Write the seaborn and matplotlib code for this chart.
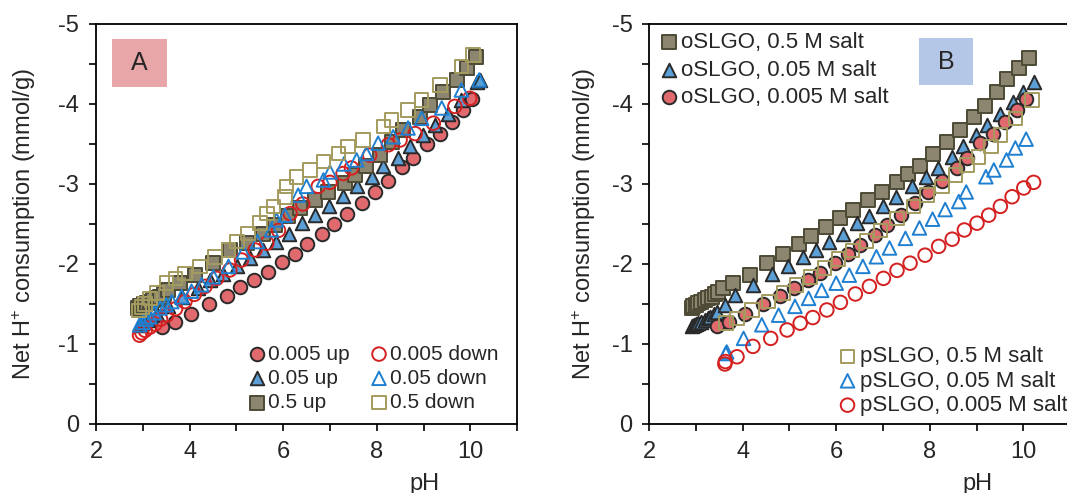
import matplotlib
matplotlib.use("Agg")
import matplotlib.pyplot as plt
import seaborn as sns
from matplotlib.patches import Rectangle
from matplotlib.ticker import MultipleLocator

# ---- panel A: up / down titrations of oSLGO at three salt levels ----
a_up_005_ph = [3.42, 3.69, 4.02, 4.41, 4.79, 5.08, 5.38, 5.67, 5.97, 6.25, 6.50, 6.84,
               7.09, 7.37, 7.68, 7.96, 8.25, 8.55, 8.77, 9.07, 9.35, 9.61, 9.85, 10.03]
a_up_005 = [-1.21, -1.27, -1.375, -1.50, -1.60, -1.71, -1.80, -1.90, -2.02, -2.125, -2.25, -2.37,
            -2.50, -2.62, -2.76, -2.90, -3.04, -3.21, -3.33, -3.50, -3.63, -3.78, -3.92, -4.06]

a_up_05_ph = [2.93, 2.98, 3.02, 3.08, 3.15, 3.30, 3.54, 3.83, 4.19, 4.44, 4.72, 5.01, 5.29, 5.57,
              5.85, 6.12, 6.40, 6.69, 6.97, 7.27, 7.57, 7.89, 8.14, 8.45, 8.71, 8.98, 9.24,
              9.53, 9.81, 10.15, 10.2]
a_up_05 = [-1.24, -1.26, -1.28, -1.30, -1.33, -1.38, -1.47, -1.59, -1.70, -1.80, -1.88, -1.97, -2.07,
           -2.175, -2.27, -2.38, -2.51, -2.61, -2.72, -2.85, -2.97, -3.09, -3.22, -3.33, -3.475,
           -3.61, -3.74, -3.88, -4.05, -4.28, -4.30]

a_up_5_ph = [2.90, 2.94, 2.98, 3.03, 3.08, 3.15, 3.22, 3.30, 3.37, 3.45, 3.54, 3.79, 4.12, 4.51,
             4.86, 5.22, 5.57, 5.82, 6.10, 6.36, 6.68, 6.96, 7.32, 7.53, 7.78, 8.07, 8.32, 8.57,
             8.92, 9.14, 9.42, 9.71, 9.92, 10.12]
a_up_5 = [-1.45, -1.47, -1.48, -1.50, -1.51, -1.53, -1.55, -1.57, -1.59, -1.63, -1.675, -1.76,
          -1.86, -2.01, -2.175, -2.26, -2.38, -2.49, -2.60, -2.70, -2.80, -2.90, -3.01, -3.11,
          -3.22, -3.36, -3.52, -3.675, -3.84, -3.99, -4.15, -4.30, -4.45, -4.59]

a_dn_005_ph = [2.93, 2.98, 3.05, 3.15, 3.26, 3.38, 3.51, 3.70, 3.90, 4.10, 4.33, 4.58, 4.86, 5.11,
               5.40, 5.65, 5.90, 6.15, 6.42, 6.75, 7.00, 7.28, 7.46, 7.85, 8.25, 8.50, 8.82,
               9.21, 9.67, 9.99]
a_dn_005 = [-1.11, -1.14, -1.17, -1.21, -1.25, -1.31, -1.36, -1.44, -1.53, -1.62, -1.72, -1.82,
            -1.925, -2.05, -2.175, -2.26, -2.42, -2.63, -2.75, -2.97, -3.02, -3.13, -3.20, -3.36,
            -3.49, -3.55, -3.63, -3.76, -3.97, -4.07]

a_dn_05_ph = [2.93, 3.00, 3.07, 3.15, 3.25, 3.37, 3.50, 3.62, 3.83, 4.04, 4.26, 4.51, 4.83, 5.15,
              5.45, 5.75, 5.86, 6.04, 6.32, 6.50, 6.86, 7.00, 7.30, 7.57, 7.78, 8.03, 8.35, 8.67,
              8.96, 9.39, 9.81, 10.19]
a_dn_05 = [-1.24, -1.27, -1.31, -1.34, -1.39, -1.45, -1.49, -1.53, -1.59, -1.66, -1.74, -1.84,
           -1.97, -2.15, -2.28, -2.425, -2.55, -2.61, -2.86, -2.97, -3.05, -3.15, -3.25, -3.30,
           -3.38, -3.51, -3.59, -3.70, -3.82, -3.95, -4.175, -4.30]

a_dn_5_ph = [2.92, 2.98, 3.05, 3.15, 3.30, 3.51, 3.70, 3.90, 4.22, 4.54, 4.83, 5.01, 5.25, 5.50,
             5.65, 5.79, 6.04, 6.07, 6.29, 6.57, 6.86, 7.18, 7.39, 7.71, 8.14, 8.32, 8.67, 8.96,
             9.35, 9.81, 10.06]
a_dn_5 = [-1.42, -1.46, -1.50, -1.57, -1.64, -1.76, -1.82, -1.88, -1.97, -2.09, -2.175, -2.28,
          -2.38, -2.51, -2.63, -2.72, -2.84, -2.97, -3.09, -3.175, -3.28, -3.38, -3.47, -3.55,
          -3.72, -3.80, -3.925, -4.05, -4.24, -4.47, -4.61]

# ---- panel B: oSLGO vs pSLGO ----
b_o5_ph = [2.91, 2.95, 3.00, 3.05, 3.12, 3.20, 3.27, 3.34, 3.41, 3.48, 3.59, 3.80, 4.15, 4.53,
           4.87, 5.21, 5.47, 5.78, 6.09, 6.37, 6.69, 6.98, 7.30, 7.53, 7.80, 8.07, 8.37, 8.64,
           8.95, 9.19, 9.44, 9.66, 9.91, 10.13]
b_o5 = [-1.45, -1.47, -1.49, -1.51, -1.53, -1.55, -1.57, -1.59, -1.62, -1.65, -1.70, -1.76, -1.86,
        -2.01, -2.13, -2.25, -2.35, -2.46, -2.58, -2.68, -2.80, -2.90, -3.02, -3.125, -3.23,
        -3.37, -3.53, -3.675, -3.84, -3.98, -4.15, -4.31, -4.45, -4.58]

b_o05_ph = [2.91, 2.96, 3.01, 3.05, 3.12, 3.20, 3.25, 3.30, 3.38, 3.45, 3.63, 3.84, 4.23, 4.62,
            4.98, 5.29, 5.57, 5.85, 6.14, 6.44, 6.71, 7.01, 7.28, 7.62, 7.93, 8.18, 8.47, 8.72,
            8.99, 9.22, 9.51, 9.78, 9.99, 10.22]
b_o05 = [-1.22, -1.24, -1.25, -1.26, -1.28, -1.30, -1.32, -1.34, -1.37, -1.40, -1.49, -1.61,
         -1.74, -1.88, -1.97, -2.09, -2.175, -2.28, -2.38, -2.51, -2.60, -2.72, -2.84, -2.97,
         -3.09, -3.20, -3.34, -3.47, -3.61, -3.74, -3.88, -4.03, -4.15, -4.28]

b_o005_ph = [3.45, 3.70, 4.05, 4.43, 4.80, 5.09, 5.39, 5.66, 5.98, 6.26, 6.51, 6.83, 7.08, 7.38,
             7.69, 7.97, 8.26, 8.58, 8.80, 9.08, 9.36, 9.61, 9.87, 10.06]
b_o005 = [-1.22, -1.28, -1.38, -1.50, -1.60, -1.70, -1.80, -1.89, -2.01, -2.12, -2.24, -2.36,
          -2.49, -2.61, -2.76, -2.90, -3.04, -3.20, -3.32, -3.51, -3.63, -3.78, -3.92, -4.06]

b_p5_ph = [3.65, 3.88, 4.20, 4.55, 4.87, 5.15, 5.45, 5.75, 6.05, 6.35, 6.65, 6.95, 7.30, 7.65,
           7.94, 8.26, 8.55, 8.80, 9.04, 9.31, 9.51, 9.83, 10.19]
b_p5 = [-1.26, -1.32, -1.425, -1.53, -1.64, -1.74, -1.84, -1.95, -2.06, -2.17, -2.29, -2.42,
        -2.57, -2.72, -2.86, -2.97, -3.11, -3.24, -3.34, -3.47, -3.61, -3.82, -4.05]

b_p05_ph = [3.64, 3.66, 4.02, 4.41, 4.77, 5.12, 5.41, 5.69, 6.00, 6.28, 6.57, 6.86, 7.14, 7.48,
            7.78, 8.06, 8.33, 8.62, 8.78, 9.20, 9.37, 9.64, 9.83, 10.06]
b_p05 = [-0.88, -0.90, -1.07, -1.24, -1.36, -1.47, -1.57, -1.67, -1.76, -1.86, -1.97, -2.09,
         -2.20, -2.32, -2.45, -2.56, -2.68, -2.78, -2.90, -3.09, -3.175, -3.30, -3.45, -3.56]

b_p005_ph = [3.62, 3.63, 3.88, 4.22, 4.60, 4.95, 5.23, 5.50, 5.80, 6.09, 6.41, 6.71, 7.01, 7.30,
             7.58, 7.90, 8.19, 8.48, 8.74, 9.01, 9.26, 9.51, 9.76, 10.01, 10.22]
b_p005 = [-0.75, -0.78, -0.84, -0.97, -1.07, -1.175, -1.26, -1.33, -1.425, -1.52, -1.625, -1.72,
          -1.82, -1.92, -2.01, -2.11, -2.22, -2.31, -2.425, -2.51, -2.61, -2.72, -2.84, -2.95,
          -3.02]

RED_FILL = "#e06a6e"
BLUE_FILL = "#5b9fd6"
GRAY_FILL = "#8c8670"
DARK = "#2a2a2a"
GRAY_EDGE = "#4d4a35"
RED_OPEN = "#d42020"
BLUE_OPEN = "#1f7fd0"
OLIVE_OPEN = "#a39b5e"

sns.set_style("ticks")
plt.rcParams["font.family"] = ["Liberation Sans", "DejaVu Sans"]
plt.rcParams["mathtext.fontset"] = "custom"
plt.rcParams["mathtext.rm"] = "Liberation Sans"
plt.rcParams["mathtext.it"] = "Liberation Sans:italic"
plt.rcParams["axes.unicode_minus"] = False

S = 95


def filled(ax, x, y, marker, fc, ec):
    sns.scatterplot(x=x, y=y, ax=ax, marker=marker, s=S, color=fc,
                    edgecolor=ec, linewidth=1.4, zorder=3)
    return ax.collections[-1]


def hollow(ax, x, y, marker, ec):
    sns.scatterplot(x=x, y=y, ax=ax, marker=marker, s=S, facecolor="none",
                    edgecolor=ec, linewidth=1.4, zorder=4)
    return ax.collections[-1]


def style_axes(ax):
    ax.set_xlim(2, 11)
    ax.set_ylim(0, -5)
    ax.xaxis.set_major_locator(MultipleLocator(2))
    ax.xaxis.set_minor_locator(MultipleLocator(1))
    ax.yaxis.set_major_locator(MultipleLocator(1))
    ax.yaxis.set_minor_locator(MultipleLocator(0.5))
    ax.tick_params(which="both", direction="out", length=5, width=1.2, color="black")
    ax.tick_params(axis="both", labelsize=17, pad=7)
    for sp in ax.spines.values():
        sp.set_linewidth(1.3)
        sp.set_color("black")
    ax.set_xlabel("pH", fontsize=17)
    ax.xaxis.set_label_coords(0.78, -0.15)
    ax.xaxis.label.set_va("center")
    ax.set_ylabel("Net H$^{+}$ consumption (mmol/g)", fontsize=17)


fig = plt.figure(figsize=(10.67, 4.93), dpi=100)
axA = fig.add_axes([0.0900, 0.140, 0.3946, 0.8114])
axB = fig.add_axes([0.6083, 0.140, 0.3946, 0.8114])

# panel A
h1 = filled(axA, a_up_005_ph, a_up_005, "o", RED_FILL, DARK)
h2 = filled(axA, a_up_05_ph, a_up_05, "^", BLUE_FILL, DARK)
h3 = filled(axA, a_up_5_ph, a_up_5, "s", GRAY_FILL, GRAY_EDGE)
h4 = hollow(axA, a_dn_005_ph, a_dn_005, "o", RED_OPEN)
h5 = hollow(axA, a_dn_05_ph, a_dn_05, "^", BLUE_OPEN)
h6 = hollow(axA, a_dn_5_ph, a_dn_5, "s", OLIVE_OPEN)
style_axes(axA)
axA.yaxis.set_label_coords(-0.138, 0.5)
axA.legend([h1, h2, h3, h4, h5, h6],
           ["0.005 up", "0.05 up", "0.5 up", "0.005 down", "0.05 down", "0.5 down"],
           ncol=2, loc="lower right", bbox_to_anchor=(0.957, 0.03), frameon=False,
           fontsize=15, handletextpad=0.05, columnspacing=0.9, labelspacing=0.25,
           borderpad=0, borderaxespad=0, handlelength=1.0, scatterpoints=1)
axA.add_patch(Rectangle((0.037, 0.843), 0.131, 0.1185, transform=axA.transAxes,
                        facecolor="#e8a6a8", edgecolor="none", zorder=1))
axA.text(0.1025, 0.902, "A", transform=axA.transAxes, fontsize=18,
         ha="center", va="center", zorder=2)

# panel B
g1 = filled(axB, b_o5_ph, b_o5, "s", GRAY_FILL, GRAY_EDGE)
g2 = filled(axB, b_o05_ph, b_o05, "^", BLUE_FILL, DARK)
g3 = filled(axB, b_o005_ph, b_o005, "o", RED_FILL, DARK)
g4 = hollow(axB, b_p5_ph, b_p5, "s", OLIVE_OPEN)
g5 = hollow(axB, b_p05_ph, b_p05, "^", BLUE_OPEN)
g6 = hollow(axB, b_p005_ph, b_p005, "o", RED_OPEN)
style_axes(axB)
axB.yaxis.set_label_coords(-0.121, 0.5)
legB1 = axB.legend([g1, g2, g3],
                   ["oSLGO, 0.5 M salt", "oSLGO, 0.05 M salt", "oSLGO, 0.005 M salt"],
                   loc="upper left", bbox_to_anchor=(0.02, 0.98), frameon=False,
                   fontsize=16, handletextpad=0.05, labelspacing=0.3, borderpad=0,
                   borderaxespad=0, handlelength=1.0, scatterpoints=1)
axB.add_artist(legB1)
axB.legend([g4, g5, g6],
           ["pSLGO, 0.5 M salt", "pSLGO, 0.05 M salt", "pSLGO, 0.005 M salt"],
           loc="lower left", bbox_to_anchor=(0.445, 0.02), frameon=False,
           fontsize=16, handletextpad=0.05, labelspacing=0.15, borderpad=0,
           borderaxespad=0, handlelength=1.0, scatterpoints=1)
axB.add_patch(Rectangle((0.641, 0.8475), 0.128, 0.1175, transform=axB.transAxes,
                        facecolor="#b4c7e7", edgecolor="none", zorder=1))
axB.text(0.705, 0.906, "B", transform=axB.transAxes, fontsize=18,
         ha="center", va="center", zorder=2)

fig.savefig("out.png", dpi=100)
